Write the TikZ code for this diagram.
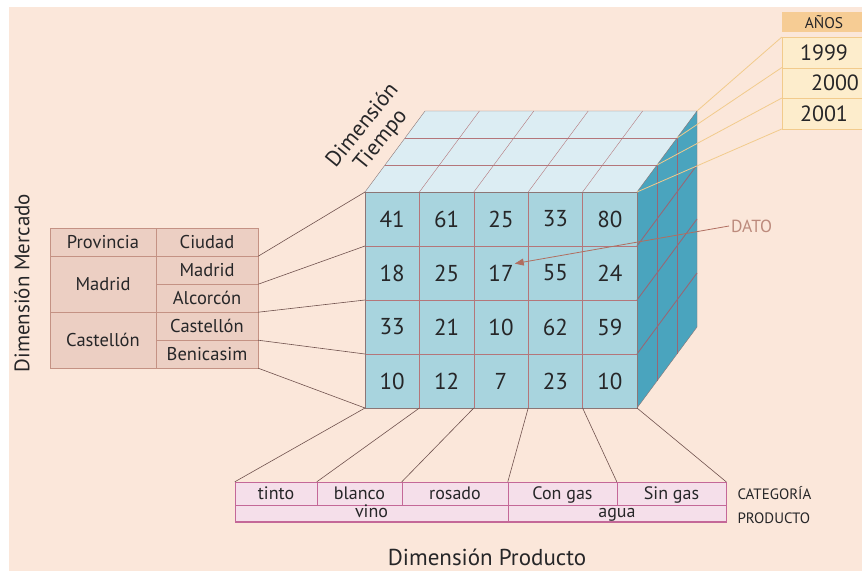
\documentclass[tikz,border=0pt]{standalone}
\usepackage{fontspec}
\setmainfont{PT Sans}
\usetikzlibrary{arrows.meta,calc}
\definecolor{paper}{RGB}{251,231,218}
\definecolor{cubefront}{RGB}{168,212,222}
\definecolor{cubetop}{RGB}{220,237,243}
\definecolor{cubeside}{RGB}{74,164,190}
\definecolor{cubegrid}{RGB}{180,118,122}
\definecolor{sidegrid}{RGB}{150,104,118}
\definecolor{cubeedge}{RGB}{140,118,118}
\definecolor{mercfill}{RGB}{236,207,195}
\definecolor{mercline}{RGB}{196,146,132}
\definecolor{prodfill}{RGB}{245,223,234}
\definecolor{prodline}{RGB}{196,104,152}
\definecolor{yearhead}{RGB}{246,204,148}
\definecolor{yearfill}{RGB}{253,237,204}
\definecolor{yearline}{RGB}{242,203,140}
\definecolor{datored}{RGB}{176,110,96}
\definecolor{datotext}{RGB}{188,138,124}
\definecolor{linkgray}{RGB}{112,82,78}
\definecolor{inkdark}{RGB}{38,38,40}

\begin{document}
\begin{tikzpicture}[x=1pt,y=-1pt,
  merc/.style={draw=mercline,fill=mercfill,minimum height=28pt,inner sep=0pt,
    font=\fontsize{18.5}{20}\selectfont,text=inkdark},
  prod/.style={draw=prodline,fill=prodfill,inner sep=0pt,text height=12pt,text depth=3.5pt,
    font=\fontsize{18}{19}\selectfont,text=inkdark},
  prodtop/.style={prod,minimum height=23pt,text height=14pt,text depth=2pt},
  year/.style={draw=yearline,fill=yearfill,minimum width=84pt,minimum height=30.5pt,
    inner sep=0pt,font=\fontsize{22}{23}\selectfont,text=inkdark},
  datum/.style={inner sep=1pt,font=\fontsize{23}{24}\selectfont,text=inkdark},
  title/.style={font=\fontsize{21}{23}\selectfont,text=inkdark},
  link/.style={draw=linkgray,line width=0.6pt},
  yearlink/.style={draw=yearline,line width=0.8pt}]
\clip (0,0) rectangle (862,571);
\fill[white] (0,0) rectangle (862,571);
\fill[paper] (9,7) rectangle (862,571);

\foreach \i in {0,...,5}
  \foreach \j in {0,...,4}
    \coordinate (f\i\j) at ({365+54.4*\i},{192+54*\j});
\foreach \k in {0,...,3} {
  \coordinate (t\k) at ($(f50)+(20*\k,-27*\k)$);
  \coordinate (l\k) at ($(f00)+(20*\k,-27*\k)$);
  \coordinate (s\k) at ($(f54)+(20*\k,-27*\k)$);
}

\fill[cubetop] (l0) -- (t0) -- (t3) -- (l3) -- cycle;
\fill[cubeside] (t0) -- (t3) -- (s3) -- (s0) -- cycle;
\fill[cubefront] (f00) rectangle (f54);
\foreach \i in {1,...,4} {
  \draw[cubegrid] (f\i0) -- (f\i4);
  \draw[cubegrid] (f\i0) -- ++(60,-81);
}
\foreach \j in {1,2,3} {
  \draw[cubegrid] (f0\j) -- (f5\j);
  \draw[sidegrid,line width=0.9pt] (f5\j) -- ++(60,-81);
}
\foreach \k in {1,2} {
  \draw[cubegrid] (l\k) -- (t\k);
  \draw[sidegrid,line width=0.9pt] (t\k) -- (s\k);
}
\draw[cubeedge] (f00) rectangle (f54);
\draw[cubeedge] (l0) -- (l3) -- (t3) -- (t0);
\draw[cubeedge] (t3) -- (s3) -- (s0);

\foreach \row [count=\j from 0] in {{41,61,25,33,80},{18,25,17,55,24},{33,21,10,62,59},{10,12,7,23,10}}
  \foreach \v [count=\i from 0] in \row
    \node[datum] (d\i\j) at ({392.2+54.4*\i},{219+54*\j}) {\v};

\node[merc,minimum width=106pt] (prov) at (103,242) {Provincia};
\node[merc,minimum width=102pt] (ciudad) at (207,242) {Ciudad};
\node[merc,minimum width=106pt,minimum height=56pt] (madp) at (103,284) {Madrid};
\node[merc,minimum width=102pt] (madc) at (207,270) {Madrid};
\node[merc,minimum width=102pt] (alcor) at (207,298) {Alcorcón};
\node[merc,minimum width=106pt,minimum height=56pt] (castp) at (103,340) {Castellón};
\node[merc,minimum width=102pt] (castc) at (207,326) {Castellón};
\node[merc,minimum width=102pt] (benic) at (207,354) {Benicasim};
\draw[link] (ciudad.south east) -- (f00);
\draw[link] (madc.south east) -- (f01);
\draw[link] (alcor.south east) -- (f02);
\draw[link] (castc.south east) -- (f03);
\draw[link] (benic.south east) -- (f04);

\node[prodtop,minimum width=82pt] (tinto) at (276,493.5) {tinto};
\node[prodtop,minimum width=85pt] (blanco) at (359.5,493.5) {blanco};
\node[prodtop,minimum width=106pt] (rosado) at (455,493.5) {rosado};
\node[prodtop,minimum width=109pt] (congas) at (562.5,493.5) {Con gas};
\node[prodtop,minimum width=109pt] (singas) at (671.5,493.5) {Sin gas};
\node[prod,minimum width=273pt,minimum height=17pt] (vino) at (371.5,513.5) {vino};
\node[prod,minimum width=218pt,minimum height=17pt] (agua) at (617,513.5) {agua};
\draw[prodline,line width=1.6pt] (vino.south west) -- (agua.south east);
\draw[link] (tinto.north west) -- (f04);
\draw[link] (blanco.north west) -- (f14);
\draw[link] (rosado.north west) -- (f24);
\draw[link] (congas.north west) -- (f34);
\draw[link] (singas.north west) -- (f44);
\draw[link] (singas.north east) -- (f54);

\node[fill=yearhead,minimum width=84pt,minimum height=20pt,inner sep=0pt,
  font=\fontsize{15.5}{16}\selectfont,text=inkdark] (anos) at (824,22) {AÑOS};
\node[year] (y1999) at (824,52.5) {1999};
\node[year] (y2000) at (824,83) {\hspace*{22pt}2000};
\node[year] (y2001) at (824,113.5) {2001};
\draw[yearlink] (y1999.north west) -- (t3);
\draw[yearlink] (y2000.north west) -- (t2);
\draw[yearlink] (y2001.north west) -- (t1);
\draw[yearlink] (y2001.south west) -- (t0);

\node[anchor=west,inner sep=2pt,font=\fontsize{17.5}{18}\selectfont,text=datotext] (dato) at (729,226) {DATO};
\draw[datored,line width=0.8pt,-{Triangle[length=9pt,width=7pt]}] (dato.west) -- (d21.north east);

\node[title,font=\fontsize{23}{25}\selectfont] (prodtitle) at (487,557) {Dimensión Producto};
\node[title,rotate=90] (merctitle) at (22,283) {Dimensión Mercado};
\node[title,rotate=51,align=center,font=\fontsize{22}{23.5}\selectfont] (timetitle) at (372,133) {Dimensión\\Tiempo};
\node[anchor=west,align=left,font=\fontsize{15}{24}\selectfont,text=inkdark] (cat) at (734,505) {CATEGORÍA\\PRODUCTO};
\end{tikzpicture}
\end{document}
